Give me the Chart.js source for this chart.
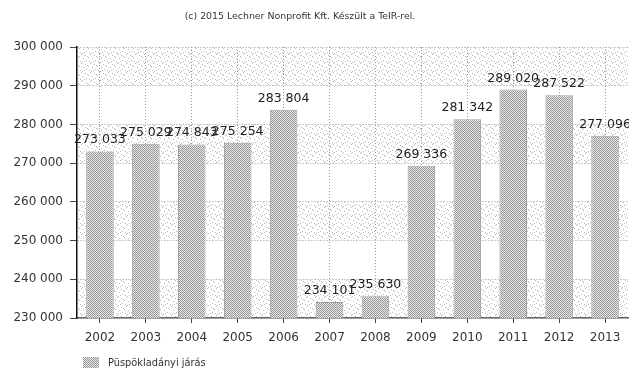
<!DOCTYPE html>
<html>
<head>
<meta charset="utf-8">
<script src="https://cdn.jsdelivr.net/npm/chart.js@4/dist/chart.umd.min.js"></script>
<style>
  html, body { margin: 0; padding: 0; background: #fff; }
  #wrap { width: 629px; height: 373px; }
</style>
</head>
<body>
<div id="wrap"><canvas id="chart"></canvas></div>
<script>
const years = ['2002','2003','2004','2005','2006','2007','2008','2009','2010','2011','2012','2013'];
const population = [273033, 275029, 274843, 275254, 283804, 234101, 235630, 269336, 281342, 289020, 287522, 277096];
const seriesName = 'Püspökladányi járás';
const credit = '(c) 2015 Lechner Nonprofit Kft. Készült a TeIR-rel.';
const yMin = 230000, yMax = 300000, yStep = 10000;

const FONT = '"DejaVu Sans", Verdana, sans-serif';

function fmt(v){
    return String(v).replace(/\B(?=(\d{3})+(?!\d))/g, ' ');
}

// dense checker texture used for the bars
function barPattern(){
    let c = document.createElement('canvas');
    c.width = 2; c.height = 2;
    let g = c.getContext('2d');
    g.fillStyle = '#e8e8e8'; g.fillRect(0,0,2,2);
    g.fillStyle = '#969696'; g.fillRect(0,0,1,1); g.fillRect(1,1,1,1);
    return g.createPattern(c, 'repeat');
}

// sparse stipple for the shaded bands
function bandPattern(){
    let c = document.createElement('canvas');
    c.width = 9; c.height = 9;
    let g = c.getContext('2d');
    g.fillStyle = '#ffffff'; g.fillRect(0,0,9,9);
    g.fillStyle = '#b8b8b8';
    [[0,0],[4,1],[7,3],[2,4],[5,6],[8,7],[1,8],[6,2],[3,7]].forEach(p => g.fillRect(p[0],p[1],1,1));
    return g.createPattern(c, 'repeat');
}

const barFill = barPattern();
const bandFill = bandPattern();

const bands = {
    id: 'bands',
    beforeDraw(chart){
        let {ctx, chartArea, scales} = chart;
        let y = scales.y;
        ctx.save();
        ctx.fillStyle = bandFill;
        for (let v = yMin; v < yMax; v += 2 * yStep){
            let top = y.getPixelForValue(v + yStep);
            let bot = y.getPixelForValue(v);
            ctx.fillRect(chartArea.left, top, chartArea.right - chartArea.left, bot - top);
        }
        ctx.restore();
    }
};

const valueLabels = {
    id: 'valueLabels',
    afterDatasetsDraw(chart){
        let ctx = chart.ctx;
        let meta = chart.getDatasetMeta(0);
        ctx.save();
        ctx.font = '12.5px ' + FONT;
        ctx.fillStyle = '#222';
        ctx.textAlign = 'center';
        ctx.textBaseline = 'alphabetic';
        meta.data.forEach((bar, i) => {
            ctx.fillText(fmt(population[i]), bar.x, bar.y - 8);
        });
        ctx.restore();
    }
};

const captions = {
    id: 'captions',
    afterDraw(chart){
        let ctx = chart.ctx;
        ctx.save();
        ctx.fillStyle = '#333';
        ctx.font = '9.4px ' + FONT;
        ctx.textAlign = 'center';
        ctx.textBaseline = 'middle';
        ctx.fillText(credit, 300, 17);

        ctx.fillStyle = barFill;
        ctx.fillRect(83, 357, 16, 11);
        ctx.fillStyle = '#333';
        ctx.font = '9.8px ' + FONT;
        ctx.textAlign = 'left';
        ctx.fillText(chart.data.datasets[0].label, 108, 363);
        ctx.restore();
    }
};

function generateChart(){
    let context = document.getElementById('chart').getContext('2d');
    return new Chart(context, {
        type: 'bar',
        data: {
            labels: years,
            datasets: [{
                label: seriesName,
                data: population,
                backgroundColor: barFill,
                borderColor: '#a0a0a0',
                borderWidth: 1,
                categoryPercentage: 1,
                barPercentage: 0.6
            }]
        },
        options: {
            responsive: true,
            maintainAspectRatio: false,
            animation: false,
            events: [],
            layout: { padding: { top: 47, left: 0, right: 1, bottom: 25 } },
            plugins: {
                legend: { display: false },
                title: { display: false },
                tooltip: { enabled: false }
            },
            scales: {
                x: {
                    afterFit(s){ s.height = 30; },
                    grid: {
                        offset: false,
                        color: '#9a9a9a',
                        tickColor: '#444',
                        tickLength: 5,
                        tickBorderDash: []
                    },
                    border: { color: '#666', width: 1.5, dash: [1, 2] },
                    ticks: { color: '#333', padding: 8, font: { family: FONT, size: 12 } }
                },
                y: {
                    min: yMin,
                    max: yMax,
                    afterFit(s){ s.width = 77; },
                    grid: {
                        color: '#9a9a9a',
                        tickColor: '#444',
                        tickLength: 7,
                        tickBorderDash: []
                    },
                    border: { color: '#111', width: 1.5, dash: [1, 2] },
                    ticks: {
                        stepSize: yStep,
                        color: '#333',
                        padding: 7,
                        font: { family: FONT, size: 12 },
                        callback: v => fmt(v)
                    }
                }
            }
        },
        plugins: [bands, valueLabels, captions]
    });
}

generateChart();
</script>
</body>
</html>
